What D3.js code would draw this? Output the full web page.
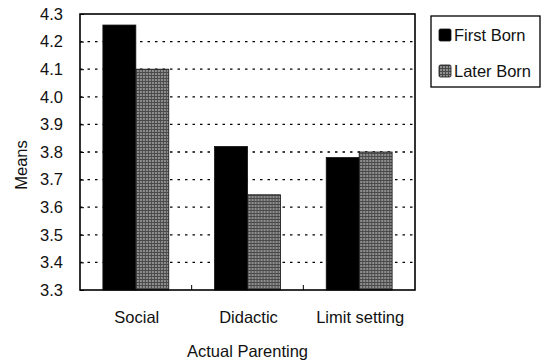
<!DOCTYPE html>
<html>
<head>
<meta charset="utf-8">
<script src="https://cdn.jsdelivr.net/npm/d3@7"></script>
<style>
  body { margin: 0; background: #fff; }
  svg { display: block; font-family: "Liberation Sans", Arial, sans-serif; }
</style>
</head>
<body>
<script>
// data
const categories = ["Social", "Didactic", "Limit setting"];
const seriesNames = ["First Born", "Later Born"];
const firstBorn = [4.26, 3.82, 3.78];
const laterBorn = [4.10, 3.645, 3.80];
const yTicks = [3.3, 3.4, 3.5, 3.6, 3.7, 3.8, 3.9, 4.0, 4.1, 4.2, 4.3];

const width = 546, height = 361;
const margin = {top: 14, right: 131, bottom: 71, left: 80};
const fontSize = 16.5;

const svg = d3.select("body").append("svg")
    .attr("width", width)
    .attr("height", height);

// gray texture for the later born bars
const defs = svg.append("defs");
const pat = defs.append("pattern")
    .attr("id", "grain")
    .attr("patternUnits", "userSpaceOnUse")
    .attr("width", 3).attr("height", 3);
pat.append("rect").attr("width", 3).attr("height", 3).attr("fill", "#8f8f8f");
pat.append("rect").attr("width", 3).attr("height", 1).attr("fill", "#4a4a4a");
pat.append("rect").attr("width", 1).attr("height", 3).attr("fill", "#4a4a4a");

const x0 = d3.scaleBand()
    .domain(categories)
    .range([margin.left, width - margin.right])
    .paddingInner(0.41)
    .paddingOuter(0.205);

const x1 = d3.scaleBand()
    .domain(seriesNames)
    .range([0, x0.bandwidth()]);

const y = d3.scaleLinear()
    .domain([3.3, 4.3])
    .range([height - margin.bottom, margin.top]);

const fills = {"First Born": "#000", "Later Born": "url(#grain)"};

// dotted grid
svg.append("g")
  .selectAll("line")
  .data(yTicks.slice(1, -1))
  .join("line")
    .attr("x1", margin.left).attr("x2", width - margin.right)
    .attr("y1", d => y(d)).attr("y2", d => y(d))
    .attr("stroke", "#000")
    .attr("stroke-width", 1.3)
    .attr("stroke-dasharray", "2.5,5");

// bars
const rows = categories.map((c, i) => ({cat: c, vals: [firstBorn[i], laterBorn[i]]}));
svg.append("g")
  .selectAll("g")
  .data(rows)
  .join("g")
    .attr("transform", d => `translate(${x0(d.cat)},0)`)
  .selectAll("rect")
  .data(d => d.vals.map((v, j) => ({key: seriesNames[j], v})))
  .join("rect")
    .attr("x", d => x1(d.key))
    .attr("y", d => y(d.v))
    .attr("width", x1.bandwidth())
    .attr("height", d => y(3.3) - y(d.v))
    .attr("fill", d => fills[d.key])
    .attr("stroke", "#111")
    .attr("stroke-width", 0.8);

// frame
svg.append("rect")
    .attr("x", margin.left).attr("y", margin.top)
    .attr("width", width - margin.left - margin.right)
    .attr("height", height - margin.top - margin.bottom)
    .attr("fill", "none")
    .attr("stroke", "#000")
    .attr("stroke-width", 1.6);

// y axis
const yAxis = svg.append("g")
    .attr("transform", `translate(${margin.left},0)`)
    .call(d3.axisLeft(y).tickValues(yTicks).tickFormat(d3.format(".1f")).tickSize(-4).tickPadding(17));
yAxis.select(".domain").remove();
yAxis.selectAll("line").attr("stroke", "#000");
yAxis.selectAll("text").attr("font-size", fontSize).attr("fill", "#111");

// x axis, ticks between categories
const step = x0.step();
const bounds = [1, 2].map(k => margin.left + k * step);
svg.append("g")
  .selectAll("line")
  .data(bounds)
  .join("line")
    .attr("x1", d => d).attr("x2", d => d)
    .attr("y1", y(3.3)).attr("y2", y(3.3) - 5)
    .attr("stroke", "#000");

svg.append("g")
  .selectAll("text")
  .data(categories)
  .join("text")
    .attr("x", d => x0(d) + x0.bandwidth() / 2 + 1)
    .attr("y", 323)
    .attr("text-anchor", "middle")
    .attr("font-size", fontSize)
    .attr("fill", "#111")
    .text(d => d);

// axis titles
svg.append("text")
    .attr("x", (margin.left + width - margin.right) / 2)
    .attr("y", 357)
    .attr("text-anchor", "middle")
    .attr("font-size", fontSize)
    .attr("fill", "#111")
    .text("Actual Parenting");

svg.append("text")
    .attr("transform", `translate(27,165) rotate(-90)`)
    .attr("text-anchor", "middle")
    .attr("font-size", fontSize)
    .attr("fill", "#111")
    .text("Means");

// legend
const lg = svg.append("g").attr("transform", "translate(431,16)");
lg.append("rect")
    .attr("width", 109).attr("height", 71)
    .attr("fill", "#fff")
    .attr("stroke", "#000")
    .attr("stroke-width", 1.3);
const item = lg.selectAll("g.item")
  .data(seriesNames)
  .join("g")
    .attr("class", "item")
    .attr("transform", (d, i) => `translate(8,${19 + i * 36})`);
item.append("rect")
    .attr("x", 0).attr("y", -6)
    .attr("width", 12).attr("height", 12)
    .attr("rx", 1.5)
    .attr("fill", d => fills[d])
    .attr("stroke", "#111")
    .attr("stroke-width", 0.8);
item.append("text")
    .attr("x", 15)
    .attr("dy", "0.36em")
    .attr("font-size", fontSize)
    .attr("fill", "#111")
    .text(d => d);
</script>
</body>
</html>
